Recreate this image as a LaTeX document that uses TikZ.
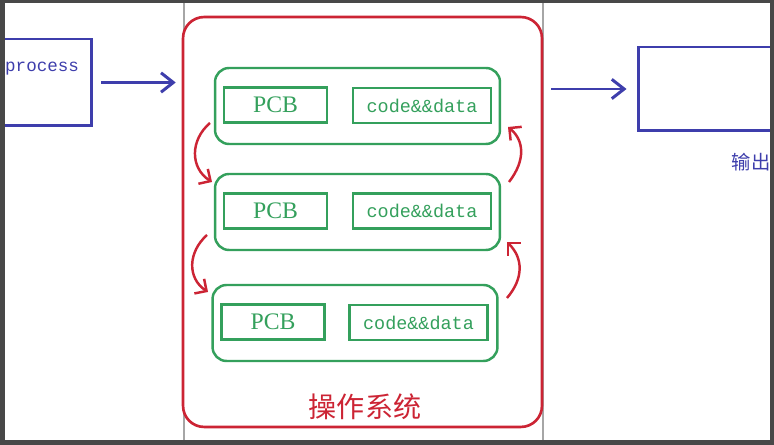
\documentclass[tikz,border=0pt]{standalone}
\usepackage{fontspec}
\setmainfont{Liberation Serif}
\setmonofont{Liberation Mono}
\newfontfamily\cjk{Noto Sans CJK SC}
\usetikzlibrary{arrows.meta}
\definecolor{penblue}{RGB}{62,62,172}
\definecolor{penred}{RGB}{204,36,52}
\definecolor{pengreen}{RGB}{52,160,92}
\definecolor{shotframe}{RGB}{72,72,72}

\begin{document}
\begin{tikzpicture}[x=0.02cm,y=-0.02cm,
 procbox/.style={draw=pengreen,line width=1.4pt,rounded corners=8pt,minimum width=5.7cm,minimum height=1.52cm},
 pcbbox/.style={draw=pengreen,line width=1.4pt,minimum width=2.06cm,minimum height=0.7cm,text=pengreen,font=\fontsize{13.5}{15}\selectfont},
 databox/.style={draw=pengreen,line width=1.4pt,minimum width=2.76cm,minimum height=0.7cm,text=pengreen,font=\ttfamily\fontsize{10.5}{12}\selectfont},
 flow/.style={penblue,line width=1.7pt,-{Straight Barb[length=7pt,width=11pt]}},
 swap/.style={penred,line width=1.4pt,-{Straight Barb[length=5pt,width=10pt]}}]
 \useasboundingbox (0,0) rectangle (774,445);
 \fill[white] (0,0) rectangle (774,445);
 \draw[gray!70,line width=0.6pt] (184,0) -- (184,445);
 \draw[gray!70,line width=0.6pt] (543,0) -- (543,445);

 \node[draw=penred,line width=1.5pt,rounded corners=12pt,minimum width=7.18cm,minimum height=8.2cm,fill=white] (os) at (362.5,222) {};
 \node[text=penred,font=\cjk\fontsize{16}{18}\selectfont] (oslabel) at (365,407) {操作系统};

 \node[procbox] (p1) at (357.5,106) {};
 \node[pcbbox] (pcb1) at (275.5,105) {PCB};
 \node[databox] (data1) at (422,105.5) {code\&\&data};
 \node[procbox] (p2) at (357.5,212) {};
 \node[pcbbox] (pcb2) at (275.5,211) {PCB};
 \node[databox] (data2) at (422,211) {code\&\&data};
 \node[procbox] (p3) at (355,323) {};
 \node[pcbbox] (pcb3) at (273,322) {PCB};
 \node[databox] (data3) at (418.5,322.5) {code\&\&data};

 \coordinate (l1a) at (210,123);
 \coordinate (l1b) at (212,182);
 \coordinate (l2a) at (207,235);
 \coordinate (l2b) at (208,292);
 \coordinate (r1a) at (509,182);
 \coordinate (r1b) at (508,127);
 \coordinate (r2a) at (507,298);
 \coordinate (r2b) at (507,242);
 \draw[swap] (l1a) .. controls (190,140) and (190,168) .. (l1b);
 \draw[swap] (l2a) .. controls (188,252) and (187,278) .. (l2b);
 \draw[swap] (r1a) .. controls (526,160) and (524,140) .. (r1b);
 \draw[swap] (r2a) .. controls (524,278) and (523,258) .. (r2b);

 \node[draw=penblue,line width=1.7pt,minimum width=2.24cm,minimum height=1.74cm] (proc) at (36,82.5) {};
 \node[text=penblue,font=\ttfamily\fontsize{10}{12}\selectfont,anchor=west] (proctxt) at (-1,69) {process};
 \node[draw=penblue,line width=1.7pt,minimum width=3.04cm,minimum height=1.68cm] (out) at (714,89) {};
 \node[text=penblue,font=\cjk\fontsize{11}{13}\selectfont] (outtxt) at (751,162) {输出};

 \draw[flow,shorten <=4.5pt,shorten >=3.4pt] (proc.east) -- (os.west |- proc.east);
 \draw[flow,shorten <=4.5pt,shorten >=5.7pt] (os.east |- out.west) -- (out.west);

 \fill[shotframe] (0,0) rectangle (5,445);
 \fill[shotframe] (0,0) rectangle (774,3);
 \fill[shotframe] (770,0) rectangle (774,445);
 \fill[shotframe] (0,440) rectangle (774,445);
\end{tikzpicture}
\end{document}
